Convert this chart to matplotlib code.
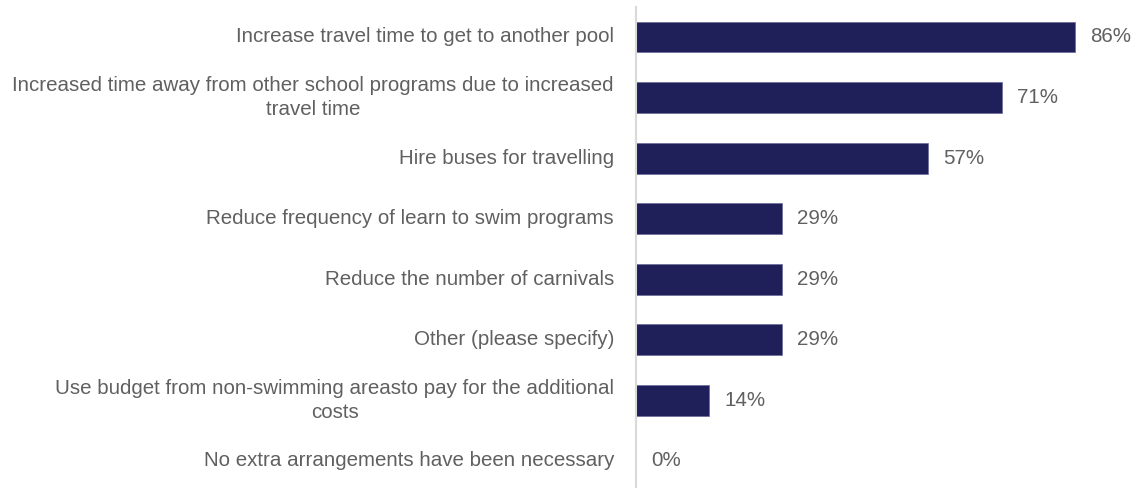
import matplotlib
matplotlib.use('Agg')
import matplotlib.pyplot as plt

# DATA
labels = ['Increase travel time to get to another pool',
          'Increased time away from other school programs due to increased\ntravel time',
          'Hire buses for travelling',
          'Reduce frequency of learn to swim programs',
          'Reduce the number of carnivals',
          'Other (please specify)',
          'Use budget from non-swimming areasto pay for the additional\ncosts',
          'No extra arrangements have been necessary']
values = [85.7, 71.4, 57.1, 28.6, 28.6, 28.6, 14.3, 0.0]

plt.rcParams['font.family'] = ['Liberation Sans', 'DejaVu Sans']

W, H = 1138, 488
fig = plt.figure(figsize=(W/100, H/100), dpi=100)
ax = fig.add_axes([636/W, 0, 1 - 636/W, 1 - 7/H])

ypos = list(range(len(values)))
ax.barh(ypos, values, height=0.51, color='#1f1f5a', edgecolor='#6a6a9a', linewidth=0.5)

ax.set_xlim(0, (W - 636) / 5.12)
ax.set_ylim(len(values) - 1 + 0.446, -0.495)

for y, v, lab in zip(ypos, values, labels):
    ax.annotate('%d%%' % round(v), (v, y), xytext=(15, 0), textcoords='offset pixels',
                va='center', ha='left', fontsize=14.8, color='#606060')
    ax.annotate(lab, (0, y), xytext=(-22, 0), textcoords='offset pixels',
                va='center', ha='right', fontsize=14.8, color='#606060',
                multialignment='center', linespacing=1.3)

ax.set_xticks([])
ax.set_yticks([])
for s in ['top', 'right', 'bottom']:
    ax.spines[s].set_visible(False)
ax.spines['left'].set_color('#d9d9d9')
ax.spines['left'].set_linewidth(1.5)

fig.savefig('out.png', dpi=100)
